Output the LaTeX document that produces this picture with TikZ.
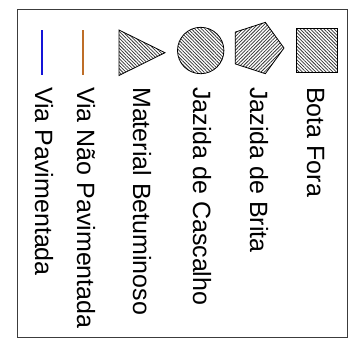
\documentclass[tikz,border=0pt]{standalone}
\usepackage{fontspec}
\setmainfont{Liberation Sans}
\usetikzlibrary{patterns.meta}
\definecolor{viablue}{RGB}{20,20,215}
\definecolor{viabrown}{RGB}{190,110,40}
\definecolor{framegray}{RGB}{60,60,60}
\tikzset{
  legtext/.style={rotate=-90, anchor=base west, inner sep=0pt, font=\fontsize{25bp}{30bp}\selectfont},
  hatchA/.style={draw=black, line width=0.8bp, pattern={Lines[angle=-45, distance=2.4bp, line width=0.75bp]}, pattern color=black!80},
  hatchB/.style={draw=black, line width=0.8bp, pattern={Lines[angle=45, distance=2.4bp, line width=0.75bp]}, pattern color=black!80},
  vialine/.style={line width=1.8bp},
}
\begin{document}
\begin{tikzpicture}[x=1bp,y=-1bp]
\useasboundingbox (0,0) rectangle (361,350);
\draw[framegray, line width=1bp] (17,9) rectangle (347,337);
% symbols
\draw[hatchA] (296.5,28) rectangle (337,72.5);
\begin{scope}[shift={(257,48)}]
\draw[hatchB] (0:27) -- (72:27) -- (144:27) -- (216:27) -- (288:27) -- cycle;
\end{scope}
\draw[hatchA] (200.7,50.5) circle[radius=23.2];
\draw[hatchA] (119,30) -- (165,52.7) -- (119,75.5) -- cycle;
\draw[viabrown, vialine] (83,30) -- (83,75);
\draw[viablue, vialine] (42,30) -- (42,75);
% labels
\node[legtext] (t1) at (307,87) {Bota Fora};
\node[legtext] (t2) at (250,87) {Jazida de Brita};
\node[legtext] (t3) at (193,87) {Jazida de Cascalho};
\node[legtext] (t4) at (133,87) {Material Betuminoso};
\node[legtext] (t5) at (77,87) {Via Não Pavimentada};
\node[legtext] (t6) at (35,87) {Via Pavimentada};
\end{tikzpicture}
\end{document}
